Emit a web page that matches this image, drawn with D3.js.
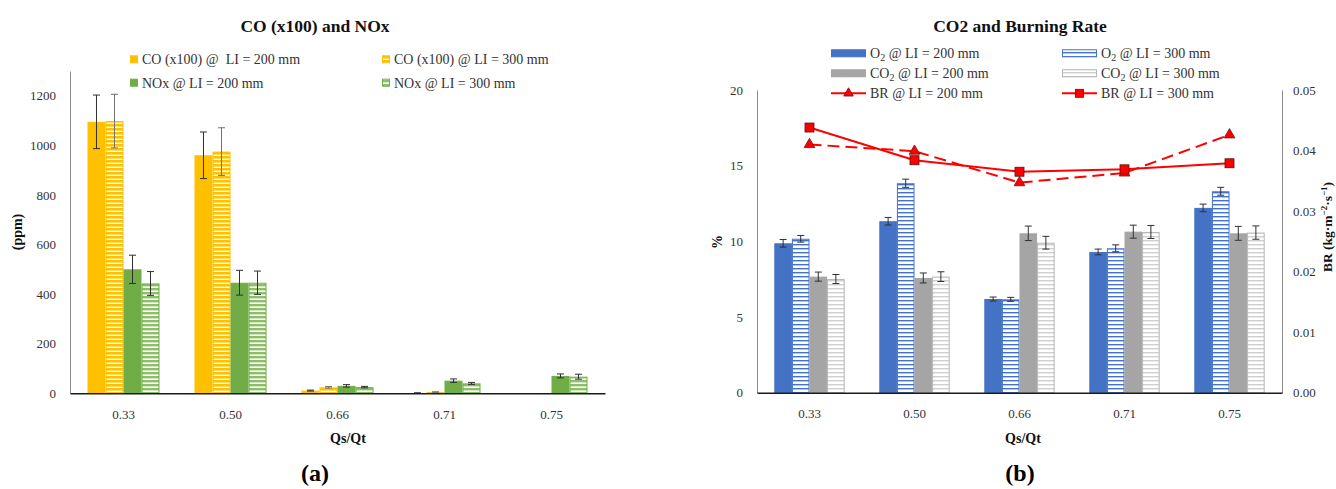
<!DOCTYPE html>
<html>
<head>
<meta charset="utf-8">
<script src="https://cdn.jsdelivr.net/npm/d3@7"></script>
<style>
  html, body { margin: 0; padding: 0; background: #fff; }
  svg { display: block; }
  text { font-family: "Liberation Serif", "DejaVu Serif", serif; }
</style>
</head>
<body>
<svg id="chart" width="1336" height="489"></svg>
<script>
// ---------- DATA ----------
const categories = ["0.33", "0.50", "0.66", "0.71", "0.75"];

// Panel (a): CO (x100) and NOx, ppm
const coLI200 = [1095, 960, 11, 1, 0];
const coLI300 = [1098, 975, 24, 5, 1];
const noxLI200 = [500, 446, 30, 51, 70];
const noxLI300 = [443, 446, 25, 40, 67];
const coErr200 = [108, 94, 2, 1, 0];
const coErr300 = [108, 96, 3, 1, 0];
const noxErr200 = [57, 50, 5, 7, 8];
const noxErr300 = [48, 47, 3, 4, 10];
const leftTicks = [0, 200, 400, 600, 800, 1000, 1200];

// Panel (b): O2, CO2 (%) and burning rate
const o2LI200 = [9.87, 11.33, 6.19, 9.30, 12.21];
const o2LI300 = [10.17, 13.84, 6.17, 9.54, 13.31];
const co2LI200 = [7.67, 7.58, 10.53, 10.64, 10.53];
const co2LI300 = [7.51, 7.67, 9.91, 10.62, 10.58];
const o2Err200 = [0.25, 0.25, 0.13, 0.19, 0.25];
const o2Err300 = [0.22, 0.27, 0.13, 0.23, 0.26];
const co2Err200 = [0.30, 0.33, 0.48, 0.43, 0.46];
const co2Err300 = [0.30, 0.32, 0.42, 0.43, 0.44];
const br200 = [0.0410, 0.0399, 0.0347, 0.0363, 0.0426];
const br300 = [0.0438, 0.0384, 0.0365, 0.0369, 0.0379];
const pctTicks = [0, 5, 10, 15, 20];
const brTicks = [0, 0.01, 0.02, 0.03, 0.04, 0.05];

// ---------- SETUP ----------
const svg = d3.select("#chart");
svg.append("rect").attr("width", 1336).attr("height", 489).attr("fill", "#fff");

const defs = svg.append("defs");
function hatch(id, color, thick, bg) {
  const p = defs.append("pattern").attr("id", id)
    .attr("patternUnits", "userSpaceOnUse").attr("width", 6).attr("height", 4);
  p.append("rect").attr("width", 6).attr("height", 4).attr("fill", bg || "#fff");
  p.append("rect").attr("y", 0).attr("width", 6).attr("height", thick).attr("fill", color);
}
hatch("hOrange", "#FFC000", 2.6);
hatch("hGreen", "#8DBE6A", 2.4);
hatch("hBlue", "#4472C4", 1.4);
hatch("hGray", "#CFCFCF", 1.4);

const AXIS_GRAY = "#8c8c8c";
const TICK_COLOR = "#333";

function styleAxis(g) {
  g.selectAll("text").attr("font-size", 13).attr("fill", TICK_COLOR)
    .attr("font-family", "Liberation Serif, DejaVu Serif, serif");
  g.select(".domain").attr("stroke", AXIS_GRAY).attr("stroke-width", 1);
}

function drawBars(g, x0, x1, y, series) {
  series.forEach(s => {
    const bw = x1.bandwidth();
    categories.forEach((c, i) => {
      const v = s.values[i];
      const bx = x0(c) + x1(s.key);
      const top = y(v), base = y(0);
      if (v > 0) {
        g.append("rect")
          .attr("x", bx + 0.5).attr("y", top + 0.5)
          .attr("width", bw - 1).attr("height", Math.max(0, base - top - 0.5))
          .attr("fill", s.fill).attr("stroke", s.stroke).attr("stroke-width", 1);
      }
      const e = s.err[i];
      if (e > 0) {
        const cx = bx + bw / 2;
        const eg = g.append("g").attr("stroke", s.errColor || "#303030").attr("stroke-width", 1);
        eg.append("line").attr("x1", cx).attr("x2", cx).attr("y1", y(v + e)).attr("y2", y(Math.max(0, v - e)));
        eg.append("line").attr("x1", cx - 3.5).attr("x2", cx + 3.5).attr("y1", y(v + e)).attr("y2", y(v + e));
        eg.append("line").attr("x1", cx - 3.5).attr("x2", cx + 3.5).attr("y1", y(Math.max(0, v - e))).attr("y2", y(Math.max(0, v - e)));
      }
    });
  });
}

// ---------- PANEL (a) ----------
{
  const g = svg.append("g");
  const x0 = d3.scaleBand().domain(categories).range([70, 605]).paddingInner(0.327).paddingOuter(0.1635);
  const seriesA = [
    { key: "co200", values: coLI200, err: coErr200, fill: "#FFC000", stroke: "#FFC000" },
    { key: "co300", values: coLI300, err: coErr300, fill: "url(#hOrange)", stroke: "#FFC000", errColor: "#707070" },
    { key: "nox200", values: noxLI200, err: noxErr200, fill: "#70AD47", stroke: "#70AD47" },
    { key: "nox300", values: noxLI300, err: noxErr300, fill: "url(#hGreen)", stroke: "#70AD47" }
  ];
  const x1 = d3.scaleBand().domain(seriesA.map(s => s.key)).range([0, x0.bandwidth()]);
  const y = d3.scaleLinear().domain([0, 1300]).range([393.3, 71]);

  const yAx = g.append("g").attr("transform", "translate(70,0)")
    .call(d3.axisLeft(y).tickValues(leftTicks).tickFormat(d3.format("d")).tickSize(0).tickPadding(14).tickSizeOuter(0));
  styleAxis(yAx);

  drawBars(g, x0, x1, y, seriesA);

  const xAx = g.append("g").attr("transform", `translate(0,${y(0)})`)
    .call(d3.axisBottom(x0).tickSize(0).tickPadding(16).tickSizeOuter(0));
  styleAxis(xAx);
  xAx.select(".domain").attr("stroke", "#1a1a1a").attr("stroke-width", 1.6);

  g.append("text").attr("x", 315).attr("y", 32).attr("text-anchor", "middle")
    .attr("font-size", 17.5).attr("font-weight", "bold").attr("fill", "#111").text("CO (x100) and NOx");

  g.append("text").attr("transform", "translate(22,232) rotate(-90)").attr("text-anchor", "middle")
    .attr("font-size", 14).attr("font-weight", "bold").attr("fill", "#111").text("(ppm)");

  g.append("text").attr("x", 348).attr("y", 443).attr("text-anchor", "middle")
    .attr("font-size", 14).attr("font-weight", "bold").attr("fill", "#111").text("Qs/Qt");

  g.append("text").attr("x", 315).attr("y", 481).attr("text-anchor", "middle")
    .attr("font-size", 24).attr("font-weight", "bold").attr("fill", "#000").text("(a)");

  // legend
  const leg = [
    { x: 130, y: 59.3, fill: "#FFC000", stroke: "#FFC000", label: "CO (x100) @\u00a0 LI = 200 mm" },
    { x: 382, y: 59.3, fill: "url(#hOrange)", stroke: "#FFC000", label: "CO (x100) @ LI = 300 mm" },
    { x: 130, y: 82.7, fill: "#70AD47", stroke: "#70AD47", label: "NOx @ LI = 200 mm" },
    { x: 382, y: 82.7, fill: "url(#hGreen)", stroke: "#70AD47", label: "NOx @ LI = 300 mm" }
  ];
  leg.forEach(d => {
    g.append("rect").attr("x", d.x + 0.5).attr("y", d.y - 3.5).attr("width", 7).attr("height", 7)
      .attr("fill", d.fill).attr("stroke", d.stroke).attr("stroke-width", 1);
    g.append("text").attr("x", d.x + 12).attr("y", d.y + 4.8).attr("font-size", 14)
      .attr("fill", "#333").text(d.label);
  });
}

// ---------- PANEL (b) ----------
{
  const g = svg.append("g");
  const x0 = d3.scaleBand().domain(categories).range([757, 1282]).paddingInner(0.33).paddingOuter(0.165);
  const seriesB = [
    { key: "o2200", values: o2LI200, err: o2Err200, fill: "#4472C4", stroke: "#4472C4" },
    { key: "o2300", values: o2LI300, err: o2Err300, fill: "url(#hBlue)", stroke: "#4472C4" },
    { key: "co2200", values: co2LI200, err: co2Err200, fill: "#A5A5A5", stroke: "#A5A5A5" },
    { key: "co2300", values: co2LI300, err: co2Err300, fill: "url(#hGray)", stroke: "#B5B5B5" }
  ];
  const x1 = d3.scaleBand().domain(seriesB.map(s => s.key)).range([0, x0.bandwidth()]);
  const y = d3.scaleLinear().domain([0, 20]).range([392.7, 90]);
  const yR = d3.scaleLinear().domain([0, 0.05]).range([392.7, 90]);

  const yAx = g.append("g").attr("transform", "translate(757,0)")
    .call(d3.axisLeft(y).tickValues(pctTicks).tickSize(0).tickPadding(14).tickSizeOuter(0));
  styleAxis(yAx);

  const yRAx = g.append("g").attr("transform", "translate(1282,0)")
    .call(d3.axisRight(yR).tickValues(brTicks).tickFormat(d3.format(".2f")).tickSize(0).tickPadding(11).tickSizeOuter(0));
  styleAxis(yRAx);

  drawBars(g, x0, x1, y, seriesB);

  const xAx = g.append("g").attr("transform", `translate(0,${y(0)})`)
    .call(d3.axisBottom(x0).tickSize(0).tickPadding(16).tickSizeOuter(0));
  styleAxis(xAx);
  xAx.select(".domain").attr("stroke", "#1a1a1a").attr("stroke-width", 1.6);

  // lines
  const cx = c => x0(c) + x0.bandwidth() / 2;
  const line = d3.line().x((d, i) => cx(categories[i])).y(d => yR(d));
  g.append("path").datum(br200).attr("d", line).attr("fill", "none")
    .attr("stroke", "#FF0000").attr("stroke-width", 2).attr("stroke-dasharray", "12,6");
  const tri = d3.symbol().type(d3.symbolTriangle).size(50);
  br200.forEach((v, i) => {
    g.append("path").attr("d", tri).attr("transform", `translate(${cx(categories[i])},${yR(v)})`)
      .attr("fill", "#FF0000").attr("stroke", "#7a1010").attr("stroke-width", 0.8);
  });
  g.append("path").datum(br300).attr("d", line).attr("fill", "none")
    .attr("stroke", "#FF0000").attr("stroke-width", 2);
  br300.forEach((v, i) => {
    g.append("rect").attr("x", cx(categories[i]) - 4.5).attr("y", yR(v) - 4.5)
      .attr("width", 9).attr("height", 9)
      .attr("fill", "#FF0000").attr("stroke", "#5a1010").attr("stroke-width", 0.8);
  });

  g.append("text").attr("x", 1020).attr("y", 32).attr("text-anchor", "middle")
    .attr("font-size", 17.5).attr("font-weight", "bold").attr("fill", "#111").text("CO2 and Burning Rate");

  g.append("text").attr("transform", "translate(722,242) rotate(-90)").attr("text-anchor", "middle")
    .attr("font-size", 14).attr("font-weight", "bold").attr("fill", "#111").text("%");

  const rt = g.append("text").attr("transform", "translate(1331.5,227) rotate(-90)").attr("text-anchor", "middle")
    .attr("font-size", 13.5).attr("font-weight", "bold").attr("fill", "#111");
  rt.append("tspan").text("BR (kg\u00b7m");
  rt.append("tspan").attr("dy", -5).attr("font-size", 9).text("\u22122");
  rt.append("tspan").attr("dy", 5).text("\u00b7s");
  rt.append("tspan").attr("dy", -5).attr("font-size", 9).text("\u22121");
  rt.append("tspan").attr("dy", 5).text(")");

  g.append("text").attr("x", 1023).attr("y", 443).attr("text-anchor", "middle")
    .attr("font-size", 14).attr("font-weight", "bold").attr("fill", "#111").text("Qs/Qt");

  g.append("text").attr("x", 1020).attr("y", 481).attr("text-anchor", "middle")
    .attr("font-size", 24).attr("font-weight", "bold").attr("fill", "#000").text("(b)");

  // legend
  const leg = [
    { x: 831, y: 53.3, type: "rect", fill: "#4472C4", stroke: "#4472C4", main: "O", sub: "2", rest: " @ LI = 200 mm" },
    { x: 1062, y: 53.3, type: "rect", fill: "url(#hBlue)", stroke: "#4472C4", main: "O", sub: "2", rest: " @ LI = 300 mm" },
    { x: 831, y: 73.3, type: "rect", fill: "#A5A5A5", stroke: "#A5A5A5", main: "CO", sub: "2", rest: " @ LI = 200 mm" },
    { x: 1062, y: 73.3, type: "rect", fill: "url(#hGray)", stroke: "#B5B5B5", main: "CO", sub: "2", rest: " @ LI = 300 mm" },
    { x: 831, y: 93.3, type: "tri", main: "BR @ LI = 200 mm" },
    { x: 1062, y: 93.3, type: "sq", main: "BR @ LI = 300 mm" }
  ];
  leg.forEach(d => {
    if (d.type === "rect") {
      g.append("rect").attr("x", d.x + 0.5).attr("y", d.y - 3.5).attr("width", 34).attr("height", 7)
        .attr("fill", d.fill).attr("stroke", d.stroke).attr("stroke-width", 1);
    } else {
      g.append("line").attr("x1", d.x).attr("x2", d.x + 35).attr("y1", d.y).attr("y2", d.y)
        .attr("stroke", "#FF0000").attr("stroke-width", 2);
      if (d.type === "tri") {
        g.append("path").attr("d", d3.symbol().type(d3.symbolTriangle).size(40))
          .attr("transform", `translate(${d.x + 17.5},${d.y})`)
          .attr("fill", "#FF0000").attr("stroke", "#7a1010").attr("stroke-width", 0.8);
      } else {
        g.append("rect").attr("x", d.x + 13.5).attr("y", d.y - 4).attr("width", 8).attr("height", 8)
          .attr("fill", "#FF0000").attr("stroke", "#5a1010").attr("stroke-width", 0.8);
      }
    }
    const t = g.append("text").attr("x", d.x + 39).attr("y", d.y + 4.8).attr("font-size", 14).attr("fill", "#333");
    t.append("tspan").text(d.main);
    if (d.sub) {
      t.append("tspan").attr("dy", 3).attr("font-size", 10).text(d.sub);
      t.append("tspan").attr("dy", -3).text(d.rest);
    }
  });
}
</script>
</body>
</html>
